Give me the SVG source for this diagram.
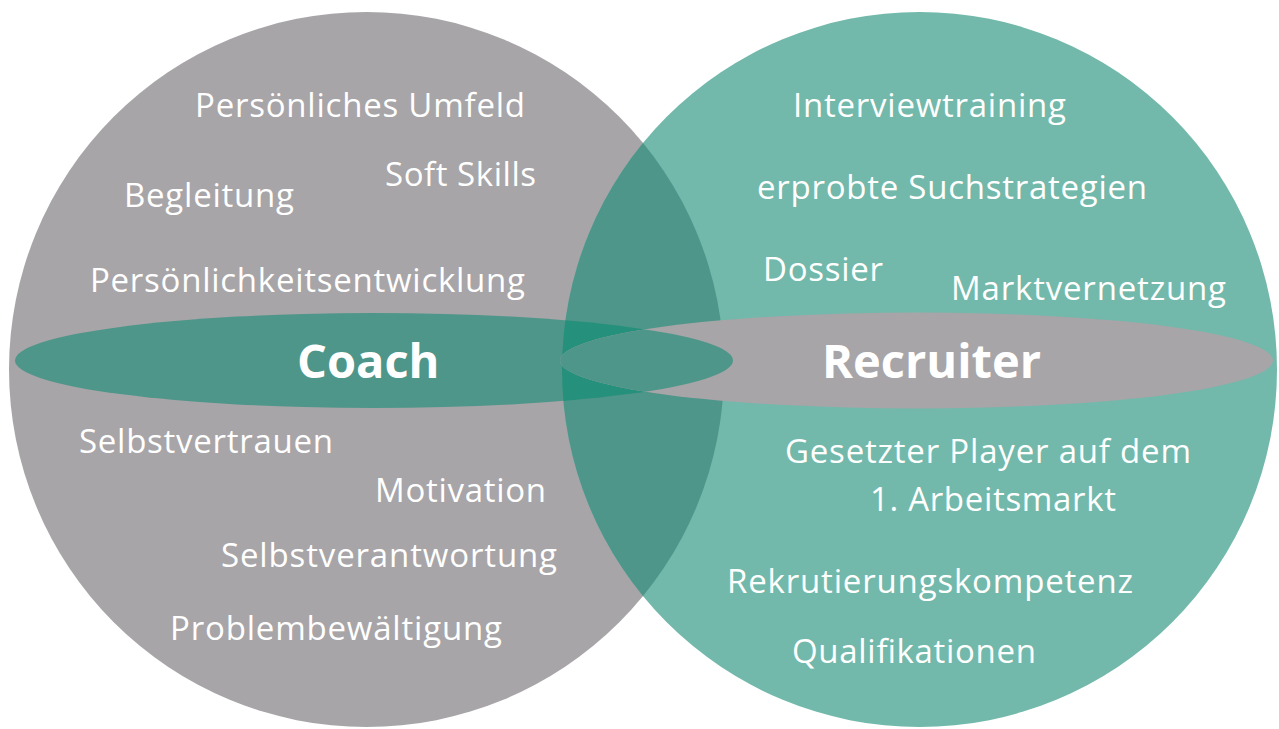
<svg xmlns="http://www.w3.org/2000/svg" width="1279" height="729" viewBox="0 0 1279 729">
  <style>
    .lbl { font-family: "Open Sans", "Liberation Sans", sans-serif; font-size: 33px; fill: #ffffff; }
    .title { font-family: "Open Sans", "Liberation Sans", sans-serif; font-size: 47px; font-weight: bold; fill: #ffffff; }
  </style>
  <defs>
    <clipPath id="clipCoachCircle">
      <circle cx="366.5" cy="369.5" r="357.5"/>
    </clipPath>
    <clipPath id="clipLens">
      <circle cx="919.5" cy="369.5" r="357.5" clip-path="url(#clipCoachCircle)"/>
    </clipPath>
    <clipPath id="clipCoachBand">
      <ellipse cx="374" cy="360.5" rx="359" ry="47.5"/>
    </clipPath>
  </defs>

  <!-- circles and their overlap -->
  <g id="coach-circle">
    <circle cx="366.5" cy="369.5" r="357.5" fill="#a7a5a8"/>
  </g>
  <g id="recruiter-circle">
    <circle cx="919.5" cy="369.5" r="357.5" fill="#72b9ab"/>
  </g>
  <g id="overlap">
    <circle cx="919.5" cy="369.5" r="357.5" fill="#4e9689" clip-path="url(#clipCoachCircle)"/>
  </g>

  <!-- horizontal bands -->
  <g id="coach-band">
    <ellipse cx="374" cy="360.5" rx="359" ry="47.5" fill="#4e9689"/>
    <g clip-path="url(#clipLens)">
      <ellipse cx="374" cy="360.5" rx="359" ry="47.5" fill="#25907c"/>
    </g>
  </g>
  <g id="recruiter-band">
    <ellipse cx="916.5" cy="360.5" rx="356.5" ry="48" fill="#a7a5a8"/>
    <ellipse cx="916.5" cy="360.5" rx="356.5" ry="48" fill="#4e9689" clip-path="url(#clipCoachBand)"/>
  </g>

  <!-- titles -->
  <g id="coach-title">
    <text class="title" x="297" y="378">Coach</text>
  </g>
  <g id="recruiter-title">
    <text class="title" x="822" y="378">Recruiter</text>
  </g>

  <!-- coach items -->
  <g id="coach-items">
    <text class="lbl" x="195" y="117" textLength="330">Persönliches Umfeld</text>
    <text class="lbl" x="385" y="186" textLength="151">Soft Skills</text>
    <text class="lbl" x="124" y="207" textLength="170">Begleitung</text>
    <text class="lbl" x="90" y="292" textLength="435">Persönlichkeitsentwicklung</text>
    <text class="lbl" x="79" y="453" textLength="254">Selbstvertrauen</text>
    <text class="lbl" x="375" y="502" textLength="171">Motivation</text>
    <text class="lbl" x="221" y="567" textLength="336">Selbstverantwortung</text>
    <text class="lbl" x="170" y="640" textLength="332">Problembewältigung</text>
  </g>

  <!-- recruiter items -->
  <g id="recruiter-items">
    <text class="lbl" x="793" y="117" textLength="273">Interviewtraining</text>
    <text class="lbl" x="757" y="199" textLength="390">erprobte Suchstrategien</text>
    <text class="lbl" x="763" y="281" textLength="120">Dossier</text>
    <text class="lbl" x="951" y="300" textLength="275">Marktvernetzung</text>
    <text class="lbl" x="785" y="463" textLength="406">Gesetzter Player auf dem</text>
    <text class="lbl" x="870" y="511" textLength="246">1. Arbeitsmarkt</text>
    <text class="lbl" x="727" y="593" textLength="406">Rekrutierungskompetenz</text>
    <text class="lbl" x="792" y="663" textLength="244">Qualifikationen</text>
  </g>
</svg>
